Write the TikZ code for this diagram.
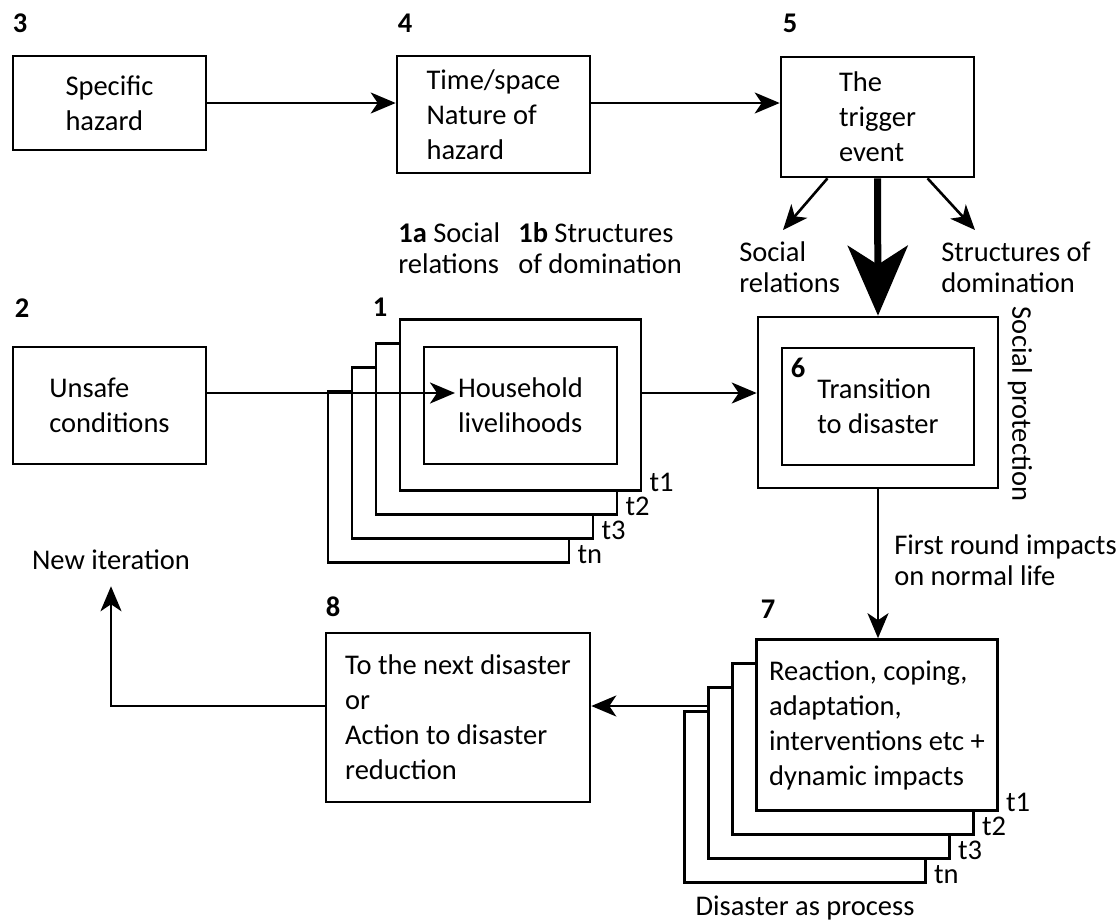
\documentclass[tikz,border=0pt]{standalone}
\usepackage{fontspec}
\setmainfont{Carlito}
\usetikzlibrary{arrows.meta}
\begin{document}
\begin{tikzpicture}[x=1pt,y=-1pt,line width=2.6pt,
  font=\fontsize{28.5}{35}\selectfont,
  box/.style={draw,fill=white,inner sep=0pt,align=left},
  stack/.style={box,minimum width=241pt,minimum height=171pt},
  num/.style={inner sep=0pt,font=\fontsize{28.5}{35}\selectfont\bfseries},
  lab/.style={inner sep=0pt,align=left,font=\fontsize{28.5}{31}\selectfont},
  tlab/.style={anchor=base west,inner sep=0pt,xshift=6pt},
  arr/.style={-{Stealth[length=25pt,width=21pt,inset=7pt]}},
  bigarr/.style={line width=7pt,-{Stealth[length=70pt,width=60pt,inset=19pt]}}]
        \useasboundingbox (0,0) rectangle (1117,924);
        \node[num] (n3) at (20,23) {3};
        \node[num] (n4) at (405,23) {4};
        \node[num] (n5) at (790,23) {5};
        \node[num] (n2) at (22,308) {2};
        \node[num] (n1) at (380,307) {1};
        \node[num] (n8) at (333,607) {8};
        \node[num] (n7) at (768,609) {7};
        \node[box,minimum width=193pt,minimum height=94pt] (haz) at (109.5,103) {Specific\\hazard};
        \node[box,minimum width=193pt,minimum height=117pt] (nat) at (493.5,114.5) {Time/space\\Nature of\\hazard};
        \node[box,minimum width=193pt,minimum height=120pt] (trig) at (877.5,117) {The\\trigger\\event};
        \node[box,minimum width=193pt,minimum height=117pt] (unsafe) at (109.5,405.5) {Unsafe\\conditions};
        \node[stack] (hh4) at (448.5,477) {};
        \node[stack] (hh3) at (472.5,453) {};
        \node[stack] (hh2) at (496.5,429) {};
        \node[stack] (hh1) at (520.5,405) {};
        \node[box,minimum width=193pt,minimum height=117pt] (hh) at (520.5,405.5) {Household\\livelihoods};
        \node[tlab] (t1a) at (hh1.south east) {t1};
        \node[tlab] (t2a) at (hh2.south east) {t2};
        \node[tlab] (t3a) at (hh3.south east) {t3};
        \node[tlab] (tna) at (hh4.south east) {tn};
        \node[box,minimum width=240pt,minimum height=171pt] (dis) at (878,402.5) {};
        \node[box,minimum width=192pt,minimum height=117pt] (trans) at (878,406.5) {Transition\\to disaster};
        \node[num] (n6) at (798,368) {6};
        \node[lab,rotate=-90] (sprot) at (1020,404) {Social protection};
        \node[lab,anchor=west] (rel1a) at (397,248.5) {\textbf{1a} Social\\relations};
        \node[lab,anchor=west] (dom1b) at (517,248.5) {\textbf{1b} Structures\\of domination};
        \node[lab,anchor=west] (srel) at (738,267.5) {Social\\relations};
        \node[lab,anchor=west] (sdom) at (940,267.5) {Structures of\\domination};
        \node[lab,anchor=west] (first) at (893,560) {First round impacts\\on normal life};
        \node[lab] (newit) at (111,560) {New iteration};
        \node[box,minimum width=264pt,minimum height=169pt] (act) at (458,717.5) {To the next disaster\\or\\Action to disaster\\reduction};
        \node[stack] (re4) at (805,797) {};
        \node[stack] (re3) at (829,773) {};
        \node[stack] (re2) at (853,749) {};
        \node[stack] (re1) at (877,725) {Reaction, coping,\\adaptation,\\interventions etc +\\dynamic impacts};
        \node[tlab] (t1b) at (re1.south east) {t1};
        \node[tlab] (t2b) at (re2.south east) {t2};
        \node[tlab] (t3b) at (re3.south east) {t3};
        \node[tlab] (tnb) at (re4.south east) {tn};
        \node[lab] (proc) at (805,908) {Disaster as process};
        \coordinate (hhin) at (455,393);
        \coordinate (srtip) at (783,230);
        \coordinate (sdtip) at (975,230);
        \coordinate (actin) at ([yshift=11.5pt]act.east);
        \draw[arr] (haz.east) -- (haz.east -| nat.west);
        \draw[arr] (nat.east |- haz.east) -- (trig.west |- haz.east);
        \draw[arr] ([xshift=-50pt]trig.south) -- (srtip);
        \draw[arr] ([xshift=50pt]trig.south) -- (sdtip);
        \draw[bigarr] (trig.south) -- (dis.north);
        \draw[arr] (unsafe.east |- hhin) -- (hhin);
        \draw[arr] (hh1.east |- hhin) -- (dis.west |- hhin);
        \draw[arr] (dis.south) -- (dis.south |- re1.north);
        \draw[arr] (re3.west |- actin) -- (actin);
        \draw[arr] (act.west |- actin) -| ([yshift=-15pt]newit.south);
      \end{tikzpicture}
\end{document}
